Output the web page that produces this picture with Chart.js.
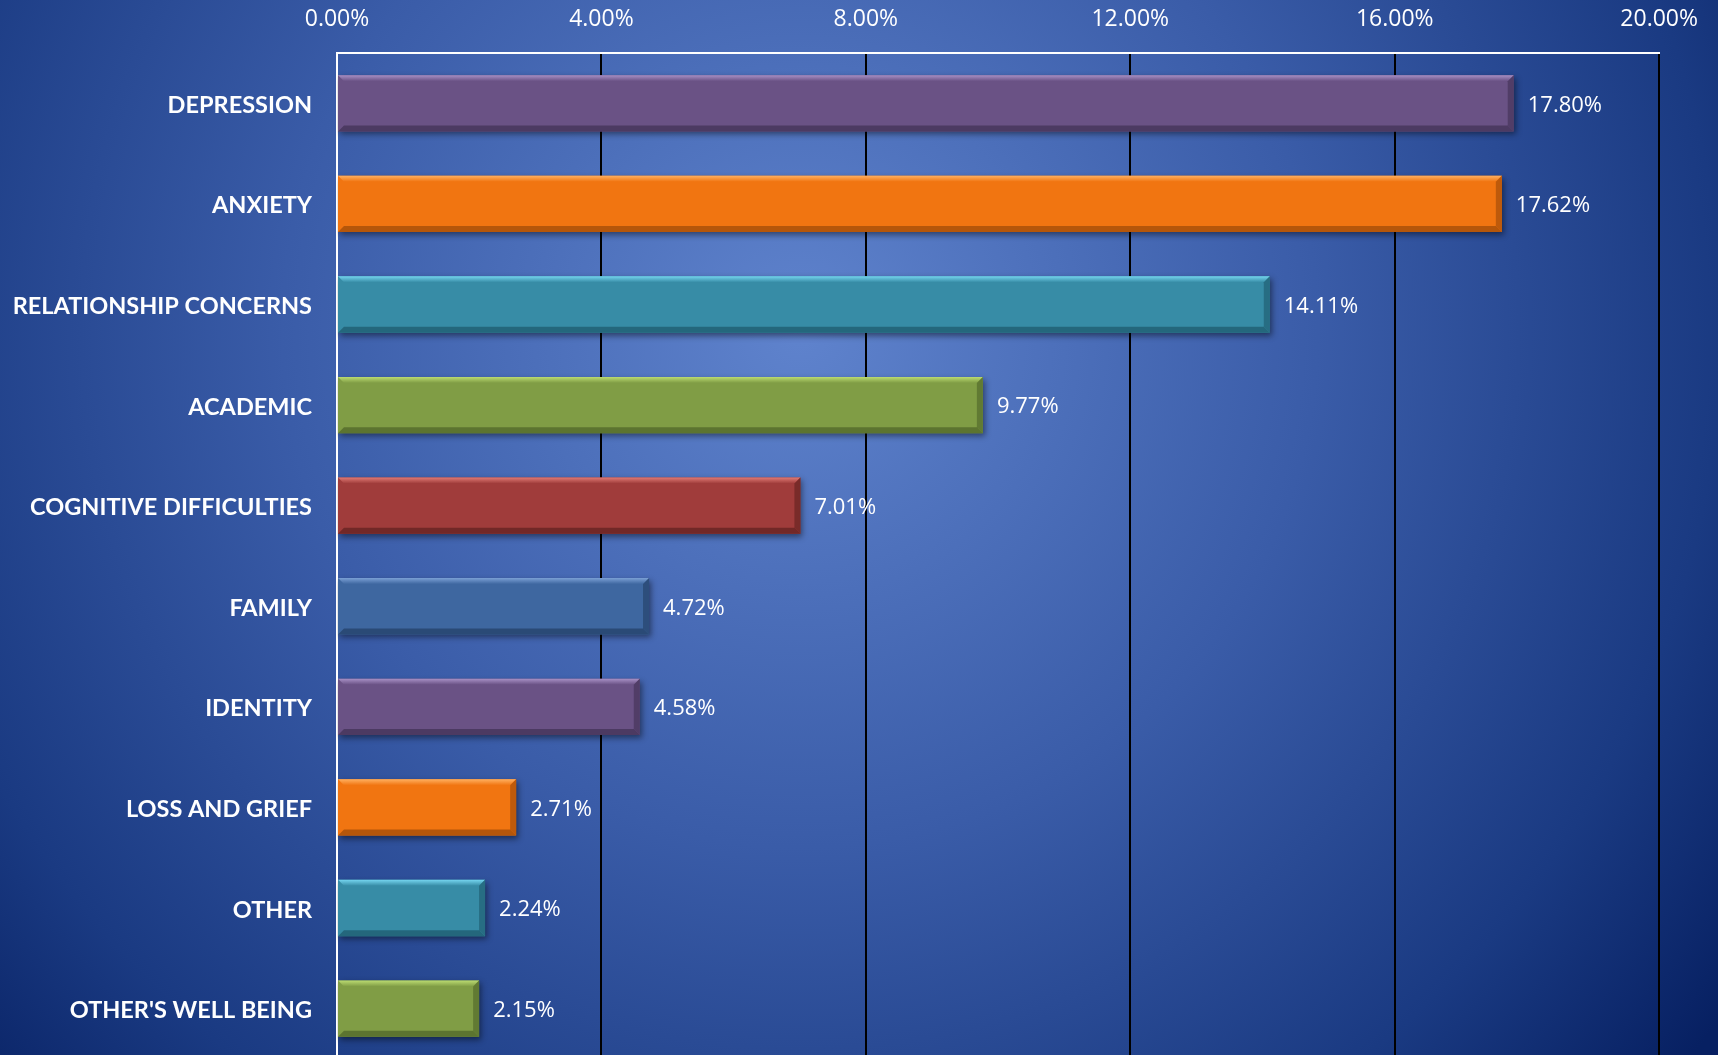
<!DOCTYPE html>
<html>
<head>
<meta charset="utf-8">
<script src="https://cdn.jsdelivr.net/npm/chart.js@4/dist/chart.umd.min.js"></script>
<style>
  html, body { margin: 0; padding: 0; overflow: hidden; background: #0a2363; }
  #wrap { width: 1718px; height: 1098px; }
</style>
</head>
<body>
<div id="wrap"><canvas id="chart" width="1718" height="1098"></canvas></div>
<script>
// data
const categories = [
  'DEPRESSION', 'ANXIETY', 'RELATIONSHIP CONCERNS', 'ACADEMIC', 'COGNITIVE DIFFICULTIES',
  'FAMILY', 'IDENTITY', 'LOSS AND GRIEF', 'OTHER', "OTHER'S WELL BEING"
];
const percentages = [17.80, 17.62, 14.11, 9.77, 7.01, 4.72, 4.58, 2.71, 2.24, 2.15];
const tickValues = [0, 4, 8, 12, 16, 20];

// bar colours (main / light top edge / dark bottom edge)
const barColors = ['#6a5285', '#f17511', '#378ca6', '#809d45', '#a03c3b', '#3e67a0', '#6a5285', '#f17511', '#378ca6', '#809d45'];
const lightColors = ['#a891c6', '#ffb060', '#74d4ee', '#bcdc72', '#e07a74', '#7a9fd4', '#a891c6', '#ffb060', '#74d4ee', '#bcdc72'];
const darkColors = ['#4c3a62', '#b5560a', '#24677c', '#5c7430', '#722827', '#2a4a76', '#4c3a62', '#b5560a', '#24677c', '#5c7430'];

const bgPlugin = {
  id: 'bg',
  beforeDraw(chart) {
    const ctx = chart.ctx;
    const g = ctx.createRadialGradient(800, 330, 0, 800, 330, 1150);
    g.addColorStop(0, '#5f83cd');
    g.addColorStop(0.45, '#3a5ca8');
    g.addColorStop(0.8, '#1a3a82');
    g.addColorStop(1, '#072062');
    ctx.save();
    ctx.fillStyle = g;
    ctx.fillRect(0, 0, chart.width, chart.height);
    ctx.restore();
  }
};

const bevelPlugin = {
  id: 'bevel',
  beforeDatasetsDraw(chart) {
    const ctx = chart.ctx;
    ctx.save();
    ctx.shadowColor = 'rgba(0,0,0,0.45)';
    ctx.shadowBlur = 6;
    ctx.shadowOffsetX = 2;
    ctx.shadowOffsetY = 3;
  },
  afterDatasetsDraw(chart) {
    const ctx = chart.ctx;
    ctx.restore();
    const meta = chart.getDatasetMeta(0);
    meta.data.forEach((bar, i) => {
      const left = bar.base, right = bar.x;
      const top = bar.y - bar.height / 2, bottom = bar.y + bar.height / 2;
      const b = 6;
      ctx.save();
      // top edge
      const tg = ctx.createLinearGradient(0, top, 0, top + b);
      tg.addColorStop(0, lightColors[i]);
      tg.addColorStop(1, barColors[i]);
      ctx.fillStyle = tg;
      ctx.beginPath();
      ctx.moveTo(left, top); ctx.lineTo(right, top);
      ctx.lineTo(right - b, top + b); ctx.lineTo(left + b, top + b);
      ctx.closePath(); ctx.fill();
      // bottom edge
      ctx.fillStyle = darkColors[i];
      ctx.beginPath();
      ctx.moveTo(left, bottom); ctx.lineTo(right, bottom);
      ctx.lineTo(right - b, bottom - b); ctx.lineTo(left + b, bottom - b);
      ctx.closePath(); ctx.fill();
      // right edge
      ctx.globalAlpha = 0.85;
      ctx.beginPath();
      ctx.moveTo(right, top); ctx.lineTo(right, bottom);
      ctx.lineTo(right - b, bottom - b); ctx.lineTo(right - b, top + b);
      ctx.closePath(); ctx.fill();
      ctx.restore();

      // value label
      ctx.save();
      ctx.fillStyle = '#ffffff';
      ctx.font = '22px "Open Sans"';
      ctx.textBaseline = 'middle';
      ctx.textAlign = 'left';
      ctx.fillText(percentages[i].toFixed(2) + '%', right + 14, bar.y + 2);
      ctx.restore();
    });
  }
};

new Chart(document.getElementById('chart'), {
  type: 'bar',
  data: {
    labels: categories,
    datasets: [{
      data: percentages,
      backgroundColor: barColors,
      borderWidth: 0,
      barPercentage: 0.56,
      categoryPercentage: 1.0
    }]
  },
  options: {
    indexAxis: 'y',
    responsive: false,
    animation: false,
    layout: { padding: { right: 58 } },
    plugins: {
      legend: { display: false },
      tooltip: { enabled: false }
    },
    scales: {
      x: {
        position: 'top',
        min: 0,
        max: 20,
        afterBuildTicks(scale) { scale.ticks = tickValues.map(v => ({ value: v })); },
        afterFit(scale) { scale.height = 53; },
        ticks: {
          color: '#ffffff',
          font: { family: '"Open Sans"', size: 23 },
          padding: 20,
          callback: (v) => v.toFixed(2) + '%'
        },
        grid: {
          color: (c) => c.tick && c.tick.value === 0 ? 'rgba(0,0,0,0)' : '#000000',
          lineWidth: 2,
          drawTicks: false
        },
        border: { display: true, color: '#ffffff', width: 2 }
      },
      y: {
        afterFit(scale) { scale.width = 337; },
        ticks: {
          color: '#ffffff',
          font: { family: 'Lato', size: 23.5, weight: 'bold' },
          padding: 25,
          labelOffset: 2
        },
        grid: { display: false, drawTicks: false },
        border: { display: true, color: '#ffffff', width: 2 }
      }
    }
  },
  plugins: [bgPlugin, bevelPlugin]
});
</script>
</body>
</html>
